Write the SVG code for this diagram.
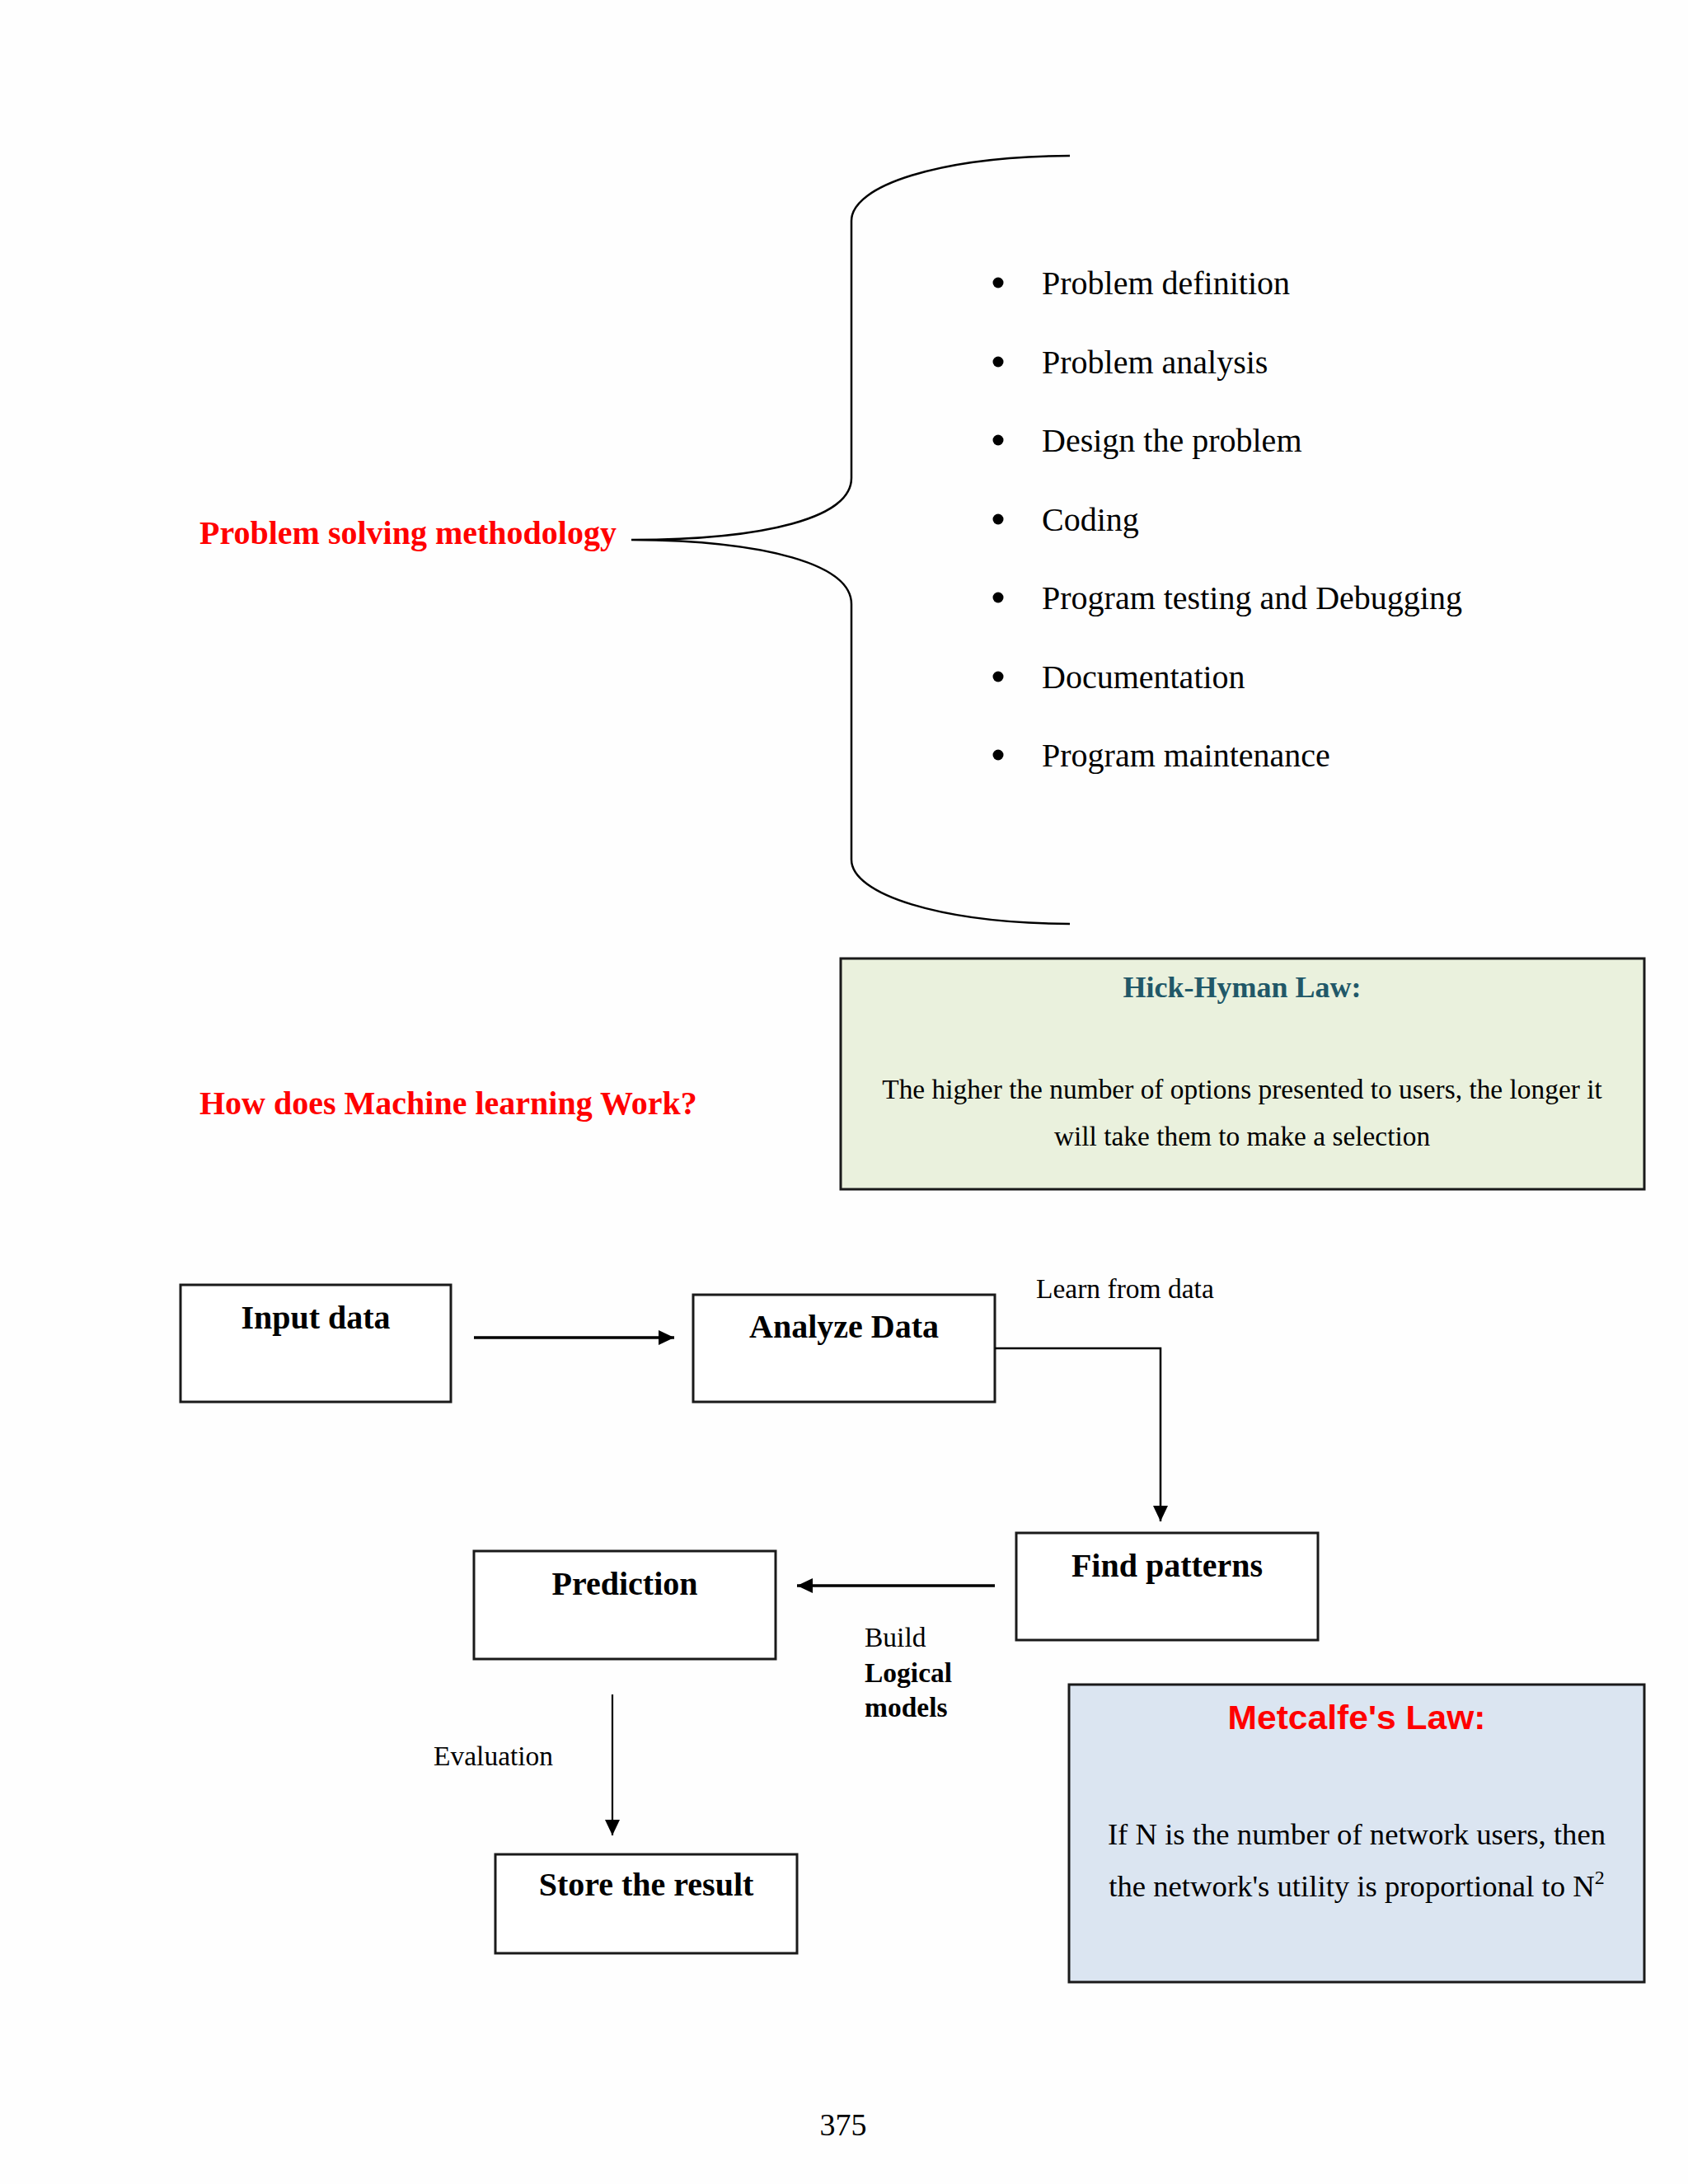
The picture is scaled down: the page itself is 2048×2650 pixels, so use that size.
<svg xmlns="http://www.w3.org/2000/svg" width="2048" height="2650" viewBox="0 0 2048 2650">
<style>
.serif{font-family:"Liberation Serif","Times New Roman",serif;}
.sans{font-family:"Liberation Sans",Arial,sans-serif;}
.red{fill:#ff0000;font-weight:bold;}
.item{font-size:40px;fill:#000;}
.box{fill:#fff;stroke:#1a1a1a;stroke-width:3;}
.btitle{font-size:40px;font-weight:bold;fill:#000;text-anchor:middle;}
.lbl{font-size:33.5px;fill:#000;}
.conn{fill:none;stroke:#000;}
</style>
<defs>
<marker id="ah" markerUnits="userSpaceOnUse" markerWidth="20" markerHeight="20" refX="19" refY="9" orient="auto">
<path d="M0,0 L19,9 L0,18 z" fill="#000"/>
</marker>
</defs>
<rect x="0" y="0" width="2048" height="2650" fill="#fefefe"/>

<g id="methodology">
<text class="serif red" x="242" y="660" font-size="40">Problem solving methodology</text>
<path d="M1298,189 C1140,190 1033,225 1033,268 L1033,580 C1033,628 930,655 766,655 C930,656 1033,685 1033,733 L1033,1043 C1033,1085 1140,1120 1298,1121" fill="none" stroke="#000" stroke-width="2.5"/>
</g>

<g id="steps" class="serif item">
<circle cx="1211" cy="343" r="6.5"/><text x="1264" y="357">Problem definition</text>
<circle cx="1211" cy="439" r="6.5"/><text x="1264" y="453">Problem analysis</text>
<circle cx="1211" cy="534" r="6.5"/><text x="1264" y="548">Design the problem</text>
<circle cx="1211" cy="630" r="6.5"/><text x="1264" y="644">Coding</text>
<circle cx="1211" cy="725" r="6.5"/><text x="1264" y="739">Program testing and Debugging</text>
<circle cx="1211" cy="821" r="6.5"/><text x="1264" y="835">Documentation</text>
<circle cx="1211" cy="916" r="6.5"/><text x="1264" y="930">Program maintenance</text>
</g>

<g id="hick-hyman">
<rect x="1020" y="1163" width="975" height="280" fill="#eaf1dd" stroke="#1a1a1a" stroke-width="3"/>
<text class="serif" x="1507" y="1210" font-size="36" font-weight="bold" fill="#215868" text-anchor="middle">Hick-Hyman Law:</text>
<text class="serif" x="1507" y="1333" font-size="33.4" fill="#000" text-anchor="middle">The higher the number of options presented to users, the longer it</text>
<text class="serif" x="1507" y="1390" font-size="33.4" fill="#000" text-anchor="middle">will take them to make a selection</text>
</g>

<g id="ml-title">
<text class="serif red" x="242" y="1352" font-size="40">How does Machine learning Work?</text>
</g>

<g id="input-data">
<rect class="box" x="219" y="1559" width="328" height="142"/>
<text class="serif btitle" x="383" y="1612">Input data</text>
</g>
<g id="analyze-data">
<rect class="box" x="841" y="1571" width="366" height="130"/>
<text class="serif btitle" x="1024" y="1623">Analyze Data</text>
</g>
<g id="find-patterns">
<rect class="box" x="1233" y="1860" width="366" height="130"/>
<text class="serif btitle" x="1416" y="1913">Find patterns</text>
</g>
<g id="prediction">
<rect class="box" x="575" y="1882" width="366" height="131"/>
<text class="serif btitle" x="758" y="1935">Prediction</text>
</g>
<g id="store-result">
<rect class="box" x="601" y="2250" width="366" height="120"/>
<text class="serif btitle" x="784" y="2300">Store the result</text>
</g>

<g id="connectors">
<line class="conn" x1="575" y1="1623" x2="818" y2="1623" stroke-width="3.4" marker-end="url(#ah)"/>
<polyline class="conn" points="1207,1636 1408,1636 1408,1846" stroke-width="2.5" marker-end="url(#ah)"/>
<line class="conn" x1="1207" y1="1924" x2="967" y2="1924" stroke-width="3.4" marker-end="url(#ah)"/>
<line class="conn" x1="743" y1="2056" x2="743" y2="2227" stroke-width="2.2" marker-end="url(#ah)"/>
<text class="serif lbl" x="1257" y="1575">Learn from data</text>
<text class="serif lbl" x="1049" y="1998">Build</text>
<text class="serif lbl" x="1049" y="2041" font-weight="bold">Logical</text>
<text class="serif lbl" x="1049" y="2083" font-weight="bold">models</text>
<text class="serif lbl" x="526" y="2142">Evaluation</text>
</g>

<g id="metcalfe">
<rect x="1297" y="2044" width="698" height="361" fill="#dbe5f1" stroke="#1a1a1a" stroke-width="3"/>
<text class="sans" x="1646" y="2098" font-size="40" font-weight="bold" fill="#ff0000" text-anchor="middle" textLength="313" lengthAdjust="spacingAndGlyphs">Metcalfe's Law:</text>
<text class="serif" x="1646" y="2238" font-size="36.7" fill="#000" text-anchor="middle">If N is the number of network users, then</text>
<text class="serif" x="1646" y="2301" font-size="36.7" fill="#000" text-anchor="middle">the network's utility is proportional to N<tspan font-size="24" dy="-15">2</tspan></text>
</g>

<g id="page-number">
<text class="serif" x="1023" y="2591" font-size="38" fill="#000" text-anchor="middle">375</text>
</g>
</svg>
